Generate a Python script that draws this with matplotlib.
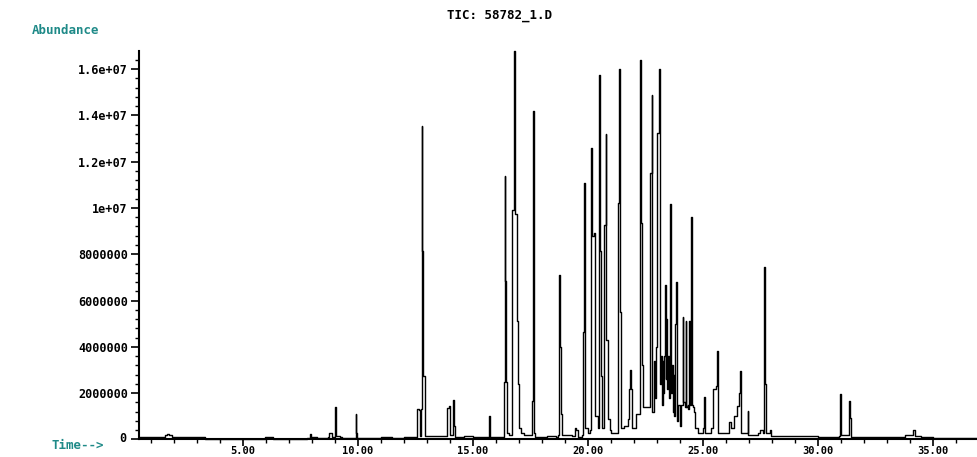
import numpy as np
import matplotlib
matplotlib.use('Agg')
import matplotlib.pyplot as plt
from matplotlib.ticker import MultipleLocator, FixedLocator

# retention time (min) and abundance (x 1e6), drawn as steps
rt_early = [0.48, 1.5, 1.62, 1.7, 1.78, 1.9, 3.3, 3.35, 5.9, 5.95, 6.25, 6.3, 7.4, 7.8, 7.92, 7.97, 8.2,
            8.7, 8.75, 8.85, 8.98, 9.01, 9.05, 9.2, 9.3, 9.87, 9.9, 9.93, 9.97, 10.5, 11.0, 11.5, 12.0,
            12.55, 12.58, 12.66, 12.7, 12.76, 12.77, 12.78, 12.83, 12.84, 12.88, 12.9]
ab_early = [0.1, 0.12, 0.2, 0.25, 0.2, 0.12, 0.1, 0.0, 0.0, 0.1, 0.1, 0.0, 0.0, 0.08, 0.25, 0.1, 0.08,
            0.1, 0.3, 0.12, 0.1, 1.39, 0.15, 0.1, 0.05, 0.05, 1.08, 0.3, 0.05, 0.05, 0.1, 0.05, 0.1,
            0.1, 1.32, 1.28, 0.15, 1.3, 13.56, 8.15, 8.15, 2.76, 2.76, 0.15]

rt_mid = [13.85, 13.87, 13.92, 13.95, 14.0, 14.13, 14.15, 14.18, 14.22, 14.6, 15.0, 15.68, 15.71, 15.74,
          16.3, 16.36, 16.38, 16.4, 16.43, 16.46, 16.55, 16.68, 16.7, 16.75, 16.8, 16.83, 16.9, 16.93,
          16.97, 17.02, 17.1, 17.2, 17.55, 17.57, 17.6, 17.62, 17.65, 17.7, 18.2, 18.6, 18.7, 18.75,
          18.78, 18.82, 18.86, 19.3, 19.45, 19.5, 19.55, 19.75, 19.8, 19.85, 19.88, 20.0, 20.1, 20.13,
          20.18, 20.25, 20.3, 20.45, 20.48, 20.52, 20.58, 20.62, 20.7, 20.77, 20.8, 20.87, 20.95, 21.0,
          21.28, 21.3, 21.35, 21.4, 21.45, 21.55, 21.75, 21.8, 21.83, 21.87, 21.92, 22.1, 22.22, 22.26,
          22.3, 22.35, 22.4, 22.55, 22.68, 22.77, 22.8, 22.86, 22.9, 22.94, 23.0, 23.1, 23.14, 23.18,
          23.21, 23.25, 23.28, 23.32, 23.35, 23.38, 23.41, 23.45, 23.48, 23.52, 23.57, 23.61, 23.65,
          23.68, 23.72, 23.75, 23.78, 23.83, 23.87, 23.93, 24.0, 24.05, 24.12, 24.15, 24.2, 24.25,
          24.28, 24.33, 24.36, 24.4, 24.44, 24.48, 24.52, 24.55, 24.6, 24.65]
ab_mid = [0.15, 1.34, 1.34, 1.45, 0.2, 0.2, 1.72, 0.6, 0.1, 0.15, 0.1, 0.1, 1.0, 0.1,
          0.1, 2.47, 11.38, 6.85, 2.47, 0.3, 0.2, 0.5, 9.9, 9.9, 16.8, 9.74, 9.74, 5.13,
          2.4, 0.5, 0.3, 0.2, 0.2, 1.68, 1.68, 14.2, 0.3, 0.1, 0.15, 0.1, 0.2, 7.1,
          3.98, 1.1, 0.2, 0.15, 0.5, 0.4, 0.1, 0.2, 4.65, 11.06, 0.5, 0.3, 0.4, 12.6,
          8.8, 8.9, 1.0, 0.5, 15.76, 8.15, 2.75, 0.5, 9.27, 13.2, 4.3, 0.9, 0.4, 0.3,
          0.3, 10.2, 16.0, 5.5, 0.5, 0.6, 0.9, 2.2, 3.0, 2.2, 0.5, 1.1, 1.1, 16.4,
          9.37, 3.2, 1.4, 1.4, 11.5, 14.87, 1.2, 3.4, 1.8, 4.0, 13.25, 16.0, 2.4, 3.6,
          1.5, 3.4, 2.0, 3.6, 6.67, 2.6, 5.2, 2.2, 3.6, 1.8, 10.17, 2.0, 3.2,
          1.2, 2.8, 1.0, 5.0, 6.8, 0.8, 1.5, 0.6, 1.5, 5.3, 1.6, 1.4, 5.1,
          1.4, 1.5, 1.3, 5.1, 1.5, 9.6, 1.5, 1.4, 1.2, 0.5]

rt_late = [24.8, 25.0, 25.06, 25.1, 25.35, 25.45, 25.55, 25.62, 25.66, 26.0, 26.12, 26.2, 26.35, 26.46,
           26.55, 26.61, 26.66, 26.9, 26.94, 26.98, 27.4, 27.5, 27.6, 27.67, 27.72, 27.76, 27.9, 27.95,
           29.0, 30.0, 30.9, 30.96, 31.0, 31.3, 31.36, 31.4, 31.45, 32.5, 33.5, 33.8, 34.1, 34.14, 34.2,
           34.5, 35.0, 36.96]
ab_late = [0.3, 0.5, 1.82, 0.3, 0.5, 2.2, 2.3, 3.84, 0.3, 0.3, 0.75, 0.5, 1.0, 1.46,
           2.0, 2.95, 0.3, 0.3, 1.25, 0.2, 0.3, 0.4, 0.3, 7.47, 2.4, 0.3, 0.4, 0.15,
           0.15, 0.12, 0.15, 1.97, 0.2, 0.2, 1.65, 0.95, 0.1, 0.1, 0.1, 0.2, 0.2, 0.39, 0.15,
           0.1, 0.05, 0.05]

y_ticks = [0, 2e6, 4e6, 6e6, 8e6, 1e7, 1.2e7, 1.4e7, 1.6e7]
y_labels = ['0', '2000000', '4000000', '6000000', '8000000', '1e+07', '1.2e+07', '1.4e+07', '1.6e+07']
x_ticks = [5, 10, 15, 20, 25, 30, 35]
x_labels = ['5.00', '10.00', '15.00', '20.00', '25.00', '30.00', '35.00']

rt = np.array(rt_early + rt_mid + rt_late)
ab = np.array(ab_early + ab_mid + ab_late) * 1e6

teal = '#1f8a88'
font = dict(family='DejaVu Sans Mono', weight='bold', size=8.5)
xfont = dict(family='DejaVu Sans Mono', weight='bold', size=7.5)
tfont = dict(family='DejaVu Sans Mono', weight='bold', size=9)

fig = plt.figure(figsize=(9.78, 4.57), dpi=100)
ax = fig.add_axes([0.1421, 0.0383, 0.8579, 0.8501])
ax.plot(rt, ab, color='black', lw=1.0, drawstyle='steps-post', clip_on=False)

ax.set_xlim(0.478, 36.96)
ax.set_ylim(0, 16.78e6)
for s in ['top', 'right']:
    ax.spines[s].set_visible(False)
for s in ['left', 'bottom']:
    ax.spines[s].set_linewidth(1.5)

ax.yaxis.set_major_locator(FixedLocator(y_ticks))
ax.set_yticklabels(y_labels, **font)
ax.yaxis.set_minor_locator(MultipleLocator(4e5))
ax.xaxis.set_major_locator(FixedLocator(x_ticks))
ax.set_xticklabels(x_labels, **xfont)
ax.xaxis.set_minor_locator(MultipleLocator(1))
ax.tick_params(which='major', length=6, width=1.2, direction='out', pad=2)
ax.tick_params(which='minor', length=3, width=1.0, direction='out')
ax.tick_params(axis='x', which='major', pad=0, length=5)
ax.get_yticklabels()[0].set_visible(False)

fig.text(0.511, 0.965, 'TIC: 58782_1.D', ha='center', va='center', **tfont)
fig.text(0.067, 0.934, 'Abundance', ha='center', va='center', color=teal, **tfont)
fig.text(0.079, 0.026, 'Time-->', ha='center', va='center', color=teal, **tfont)
fig.text(0.1295, 0.040, '0', ha='right', va='center', **font)

fig.savefig('out.png', dpi=100)
